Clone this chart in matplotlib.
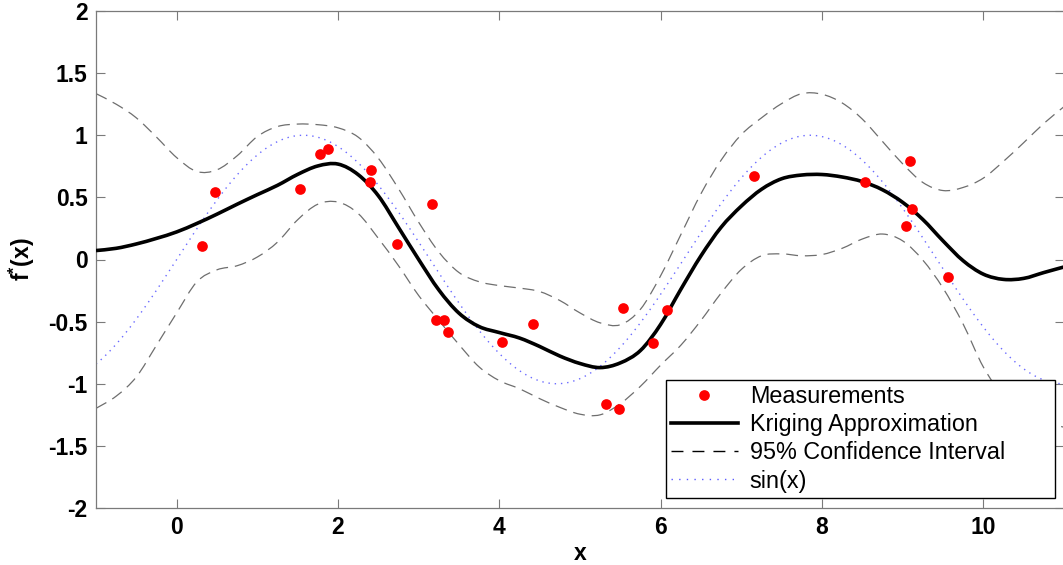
import numpy as np
import matplotlib
matplotlib.use("Agg")
import matplotlib.pyplot as plt
from matplotlib.lines import Line2D
from matplotlib.path import Path
from matplotlib.patches import PathPatch

plt.rcParams['font.family'] = ['Liberation Sans', 'DejaVu Sans']
plt.rcParams['mathtext.fontset'] = 'custom'
plt.rcParams['mathtext.rm'] = 'Liberation Sans:bold'

# Measurements (red dots)
meas_x = [0.32, 0.48, 1.53, 1.78, 1.87, 2.41, 2.40, 2.73, 3.17, 3.22, 3.32, 3.36,
          4.03, 4.42, 5.32, 5.48, 5.53, 5.91, 6.08, 7.16, 8.53, 9.09, 9.11, 9.04, 9.56]
meas_y = [0.11, 0.54, 0.57, 0.85, 0.89, 0.72, 0.62, 0.125, 0.45, -0.49, -0.49, -0.58,
          -0.66, -0.52, -1.16, -1.20, -0.39, -0.67, -0.41, 0.67, 0.62, 0.79, 0.41, 0.27, -0.14]

# Sampling positions for the kriging curves
grid_x = np.linspace(-1, 11, 49)

# Kriging approximation (solid)
krig_y = [0.072, 0.09, 0.125, 0.17, 0.222, 0.29, 0.365, 0.445, 0.522, 0.597, 0.685, 0.753,
          0.768, 0.683, 0.513, 0.258, 0.0, -0.245, -0.432, -0.54, -0.588, -0.632, -0.70, -0.777,
          -0.837, -0.870, -0.832, -0.732, -0.522, -0.24, 0.03, 0.26, 0.43, 0.565, 0.650, 0.680,
          0.684, 0.664, 0.627, 0.561, 0.46, 0.322, 0.15, -0.01, -0.118, -0.160, -0.152, -0.105, -0.06]

# 95% confidence interval, upper and lower (dashed)
upper_y = [1.335, 1.25, 1.14, 0.985, 0.82, 0.708, 0.722, 0.835, 0.99, 1.07, 1.09, 1.085,
           1.06, 0.985, 0.815, 0.57, 0.30, 0.06, -0.105, -0.179, -0.21, -0.23, -0.258, -0.33,
           -0.43, -0.51, -0.525, -0.40, -0.13, 0.20, 0.53, 0.80, 1.005, 1.14, 1.255, 1.335,
           1.33, 1.26, 1.13, 0.95, 0.77, 0.62, 0.555, 0.58, 0.655, 0.79, 0.94, 1.095, 1.23]
lower_y = [-1.198, -1.10, -0.945, -0.69, -0.43, -0.18, -0.083, -0.05, 0.02, 0.14, 0.32, 0.445,
           0.462, 0.37, 0.17, -0.05, -0.29, -0.49, -0.685, -0.865, -0.975, -1.04, -1.12, -1.19,
           -1.245, -1.25, -1.16, -1.02, -0.85, -0.69, -0.49, -0.27, -0.08, 0.03, 0.045, 0.03,
           0.04, 0.09, 0.165, 0.205, 0.15, -0.005, -0.23, -0.52, -0.865, -1.10, -1.24, -1.305, -1.35]

# True function
sin_x = np.linspace(-1, 11, 241)
sin_y = np.sin(sin_x)


def smooth_path(xs, ys):
    """Cubic Bezier path passing through the given points (Catmull-Rom tangents)."""
    p = np.column_stack([xs, ys]).astype(float)
    pp = np.vstack([p[0], p, p[-1]])
    verts = [p[0]]
    codes = [Path.MOVETO]
    for i in range(len(p) - 1):
        a, b, c, d = pp[i], pp[i + 1], pp[i + 2], pp[i + 3]
        verts += [b + (c - a) / 6.0, c - (d - b) / 6.0, c]
        codes += [Path.CURVE4] * 3
    return Path(verts, codes)


W, H = 1063, 565
fig = plt.figure(figsize=(W / 100, H / 100), dpi=100)
ax = fig.add_axes([96 / W, 1 - 508 / H, 968 / W, 497 / H])

dash_col = '#6e6e6e'
ax.plot(sin_x, sin_y, color='#6a6aff', lw=1.0, linestyle=(0, (1, 3.5)), zorder=2)
for ys in (upper_y, lower_y):
    ax.add_patch(PathPatch(smooth_path(grid_x, ys), facecolor='none', edgecolor=dash_col,
                           lw=0.9, linestyle=(0, (9.5, 5.5)), zorder=2))
ax.add_patch(PathPatch(smooth_path(grid_x, krig_y), facecolor='none', edgecolor='black',
                       lw=2.6, zorder=3))
ax.plot(meas_x, meas_y, 'o', color='#ff0000', markersize=7.7, markeredgewidth=0, zorder=4)

ax.set_xlim(-1, 11)
ax.set_ylim(-2, 2)
ax.set_xticks([0, 2, 4, 6, 8, 10])
ax.set_yticks([-2, -1.5, -1, -0.5, 0, 0.5, 1, 1.5, 2])
ax.set_yticklabels(['-2', '-1.5', '-1', '-0.5', '0', '0.5', '1', '1.5', '2'])

spine_col = '#7a7a7a'
for s in ax.spines.values():
    s.set_color(spine_col)
    s.set_linewidth(0.9)
ax.tick_params(direction='in', length=6.5, width=0.8, color=spine_col,
               top=True, right=True, labelsize=16.5, pad=6)
for lbl in ax.get_xticklabels() + ax.get_yticklabels():
    lbl.set_fontweight('bold')

ax.set_xlabel('x', fontsize=16.5, fontweight='bold', labelpad=2)
ax.set_ylabel(r'f$^{\mathrm{*}}$(x)', fontsize=16.5, fontweight='bold', labelpad=8)

handles = [
    Line2D([], [], marker='o', linestyle='none', color='#ff0000', markersize=7.7, markeredgewidth=0),
    Line2D([], [], color='black', lw=2.6),
    Line2D([], [], color='black', lw=1.0, linestyle=(0, (8.6, 6.5))),
    Line2D([], [], color='#5a5aff', lw=1.0, linestyle=(0, (1, 4.5))),
]
labels = ['Measurements', 'Kriging Approximation', '95% Confidence Interval', 'sin(x)']
x0 = (665.7 - 96) / 968
x1 = (1055 - 96) / 968
y0 = (508 - 497.5) / 497
leg = ax.legend(handles, labels, loc='lower left', bbox_to_anchor=(x0, y0, x1 - x0, 0.2),
                mode='expand', fontsize=16.8, frameon=True, fancybox=False, framealpha=1,
                edgecolor='black', handlelength=2.89, handletextpad=0.5, borderpad=0.21,
                labelspacing=0.22, borderaxespad=0, numpoints=1)
leg.get_frame().set_linewidth(1.0)

fig.savefig('out.png', dpi=100)
